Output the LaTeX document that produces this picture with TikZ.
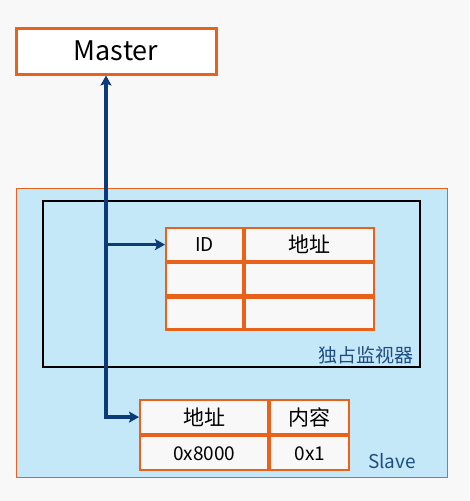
\documentclass[tikz,border=0pt]{standalone}
\usepackage{fontspec}
\setmainfont{Noto Sans CJK SC}
\usetikzlibrary{positioning,arrows.meta}

\definecolor{boxorange}{RGB}{232,98,28}
\definecolor{slaveblue}{RGB}{197,232,248}
\definecolor{flowblue}{RGB}{12,60,120}
\definecolor{labelblue}{RGB}{30,78,128}
\definecolor{paper}{RGB}{248,248,248}

\tikzset{
  cell/.style={draw=boxorange, line width=2.2pt, fill=paper, inner sep=0pt,
    font=\fontsize{19}{21}\selectfont},
  hancell/.style={cell, font=\fontsize{21}{23}\selectfont},
  flow/.style={draw=flowblue, line width=3.4pt, -{Stealth[length=10pt,width=11pt,inset=2pt]}},
}

\begin{document}
\begin{tikzpicture}[x=1pt,y=-1pt]
  \fill[paper] (0,0) rectangle (469,501);
  \useasboundingbox (0,0) rectangle (469,501);

  % outer slave and monitor frames
  \node (slave) [draw=boxorange, line width=1pt, fill=slaveblue, inner sep=0pt,
    minimum width=431pt, minimum height=289pt] at (231.5,332.5) {};
  \node (monitor) [draw=black, line width=1.4pt, fill=slaveblue, inner sep=0pt,
    minimum width=377pt, minimum height=166pt] at (231.5,284) {};
  \node [anchor=south east, text=labelblue, font=\fontsize{19}{21}\selectfont, xshift=-4pt, yshift=0pt]
    at (monitor.south east) {独占监视器};
  \node [anchor=south east, text=labelblue, font=\fontsize{19}{21}\selectfont, xshift=-28pt, yshift=5pt]
    at (slave.south east) {Slave};

  \node (master) [draw=boxorange, line width=3pt, fill=white, minimum width=200pt,
    minimum height=46pt, font=\fontsize{27}{29}\selectfont] at (116,51) {Master};

  % monitor table
  \node (idhead) [cell, minimum width=77pt, minimum height=33pt, anchor=north west] at (165,227) {ID};
  \node (addrhead) [hancell, minimum width=129pt, minimum height=33pt, right=0pt of idhead] {地址};
  \node (idone) [cell, minimum width=77pt, minimum height=32pt, below=0pt of idhead] {};
  \node (addrone) [cell, minimum width=129pt, minimum height=32pt, right=0pt of idone] {};
  \node (idtwo) [cell, minimum width=77pt, minimum height=32pt, below=0pt of idone] {};
  \node (addrtwo) [cell, minimum width=129pt, minimum height=32pt, right=0pt of idtwo] {};

  % memory table
  \node (memaddr) [hancell, minimum width=128pt, minimum height=34pt, anchor=north west] at (139,399) {地址};
  \node (memdata) [hancell, minimum width=79pt, minimum height=34pt, right=0pt of memaddr] {内容};
  \node (addrval) [cell, minimum width=128pt, minimum height=34pt, below=0pt of memaddr] {0x8000};
  \node (dataval) [cell, minimum width=79pt, minimum height=34pt, right=0pt of addrval] {0x1};

  \coordinate (bend) at (106,0 |- memaddr.west);
  \coordinate (branch) at (bend |- idhead.west);

  \draw[flow] (bend) -- (bend |- master.south);
  \draw[flow] (branch) -- (idhead.west);
  \draw[flow, shorten <=-1.7pt] (bend) -- (memaddr.west);
\end{tikzpicture}
\end{document}
